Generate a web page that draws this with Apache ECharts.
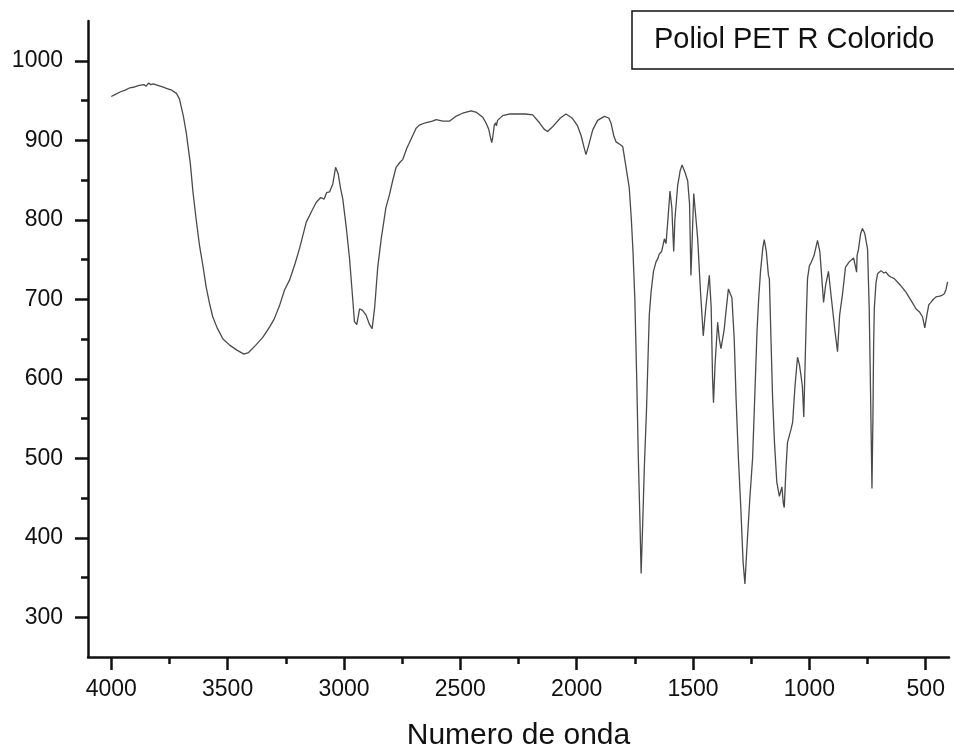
<!DOCTYPE html>
<html>
<head>
<meta charset="utf-8">
<title>Poliol PET R Colorido</title>
<script src="https://cdn.jsdelivr.net/npm/echarts@6/dist/echarts.min.js"></script>
<style>
  html, body { margin: 0; padding: 0; background: #fff; }
  #chart { width: 954px; height: 752px; }
</style>
</head>
<body>
<div id="chart"></div>
<script>
// FTIR spectrum: wavenumber (cm-1) against transmittance signal
const seriesName = 'Poliol PET R Colorido';
const axisName = 'Numero de onda';

const wavenumber = [
  4000, 3980, 3960, 3940, 3920, 3900, 3880, 3860, 3850, 3840, 3830, 3820, 3800, 3780, 3760, 3740,
  3720, 3707, 3690, 3678, 3660, 3649, 3635, 3621, 3605, 3592, 3578, 3564, 3545, 3520, 3490, 3460,
  3430, 3410, 3380, 3349, 3320, 3300, 3277, 3255, 3234, 3210, 3190, 3162, 3140, 3119, 3100, 3085,
  3075, 3062, 3048, 3036, 3025, 3015, 3005, 2990, 2976, 2965, 2955, 2945, 2933, 2920, 2905, 2890,
  2879, 2868, 2855, 2840, 2820, 2805, 2790, 2776, 2760, 2747, 2730, 2711, 2690, 2676, 2650, 2620,
  2604, 2575, 2547, 2520, 2490, 2454, 2430, 2404, 2390, 2378, 2370, 2365, 2360, 2354, 2348, 2345,
  2340, 2318, 2290, 2250, 2220, 2189, 2160, 2140, 2125, 2100, 2070, 2046, 2020, 1996, 1980, 1970,
  1960, 1950, 1931, 1910, 1881, 1862, 1852, 1840, 1831, 1815, 1802, 1790, 1774, 1765, 1758, 1750,
  1742, 1735, 1728, 1723, 1716, 1709, 1700, 1694, 1688, 1680, 1670, 1659, 1650, 1645, 1635, 1623,
  1616, 1608, 1599, 1591, 1586, 1583, 1578, 1566, 1555, 1547, 1535, 1523, 1515, 1509, 1503, 1497,
  1490, 1480, 1468, 1456, 1445, 1430, 1422, 1416, 1412, 1405, 1394, 1387, 1380, 1366, 1360, 1348,
  1333, 1323, 1315, 1305, 1295, 1285, 1277, 1268, 1256, 1244, 1232, 1225, 1218, 1210, 1200, 1194,
  1185, 1176, 1172, 1165, 1158, 1150, 1140, 1129, 1118, 1112, 1108, 1100, 1094, 1080, 1072, 1062,
  1051, 1043, 1036, 1030, 1024, 1020, 1013, 1008, 1000, 993, 980, 965, 955, 945, 939, 930,
  918, 905, 890, 879, 870, 857, 845, 829, 810, 803, 797, 795, 789, 780, 772, 762,
  750, 743, 738, 734, 731, 727, 724, 721, 714, 707, 692, 680, 671, 660, 650, 635,
  610, 585, 560, 542, 527, 514, 504, 495, 487, 478, 467, 456, 440, 430, 420, 413,
  406
];

const transmittance = [
  955, 958, 961, 963, 966, 967, 969, 970, 968, 972, 970, 971, 969, 967, 965, 963,
  959, 952, 930, 910, 870, 835, 800, 768, 740, 715, 695, 678, 664, 650, 642, 636,
  631, 633, 642, 652, 665, 675, 692, 712, 724, 745, 765, 797, 810, 822, 828, 826,
  834, 835, 845, 866, 858, 840, 826, 790, 751, 710, 672, 668, 688, 686, 680, 668,
  663, 690, 740, 776, 815, 831, 850, 866, 872, 876, 890, 902, 915, 919, 922, 924,
  926, 924, 924, 930, 934, 937, 935, 929, 922, 914, 903, 897, 905, 919, 922, 918,
  925, 931, 933, 933, 933, 932, 922, 914, 911, 918, 928, 933, 928, 918, 905, 893,
  882, 892, 913, 925, 930, 928, 921, 905, 898, 895, 892, 870, 840, 800, 760, 700,
  600, 500, 420, 355, 420, 491, 560, 620, 680, 710, 735, 747, 752, 757, 760, 776,
  770, 800, 836, 815, 780, 760, 800, 843, 862, 869, 860, 849, 820, 730, 780, 833,
  810, 776, 710, 654, 690, 730, 690, 600, 570, 620, 671, 650, 638, 662, 680, 713,
  702, 650, 575, 500, 440, 370, 342, 390, 449, 500, 600, 660, 700, 735, 765, 775,
  760, 730, 726, 650, 575, 520, 470, 452, 464, 443, 438, 490, 520, 535, 545, 590,
  627, 618, 604, 590, 552, 600, 680, 726, 742, 746, 755, 774, 760, 720, 696, 718,
  735, 700, 660, 634, 680, 708, 740, 747, 752, 751, 734, 755, 763, 782, 789, 783,
  763, 690, 600, 520, 462, 550, 640, 688, 720, 732, 736, 733, 734, 730, 728, 726,
  718, 709, 697, 688, 684, 678, 664, 680, 693, 696, 700, 703, 704, 705, 707, 712,
  722
];

// Axis ticks
const xMajorTicks = [500, 1000, 1500, 2000, 2500, 3000, 3500, 4000];
const xMinorTicks = [750, 1250, 1750, 2250, 2750, 3250, 3750];
const yMajorTicks = [300, 400, 500, 600, 700, 800, 900, 1000];
const yMinorTicks = [350, 450, 550, 650, 750, 850, 950];

const xRange = [400, 4100];
const yRange = [250, 1050];

const points = wavenumber.map((w, i) => [w, transmittance[i]]);

const font = 'Liberation Sans, Arial, Helvetica, sans-serif';
const ink = '#111';
const plain = v => String(v);

const chart = echarts.init(document.getElementById('chart'), null, { renderer: 'canvas' });

const baseX = {
  type: 'value', inverse: true, min: xRange[0], max: xRange[1],
  splitLine: { show: false }, gridIndex: 0
};
const baseY = {
  type: 'value', min: yRange[0], max: yRange[1],
  splitLine: { show: false }, gridIndex: 0
};

chart.setOption({
  animation: false,
  backgroundColor: '#fff',
  title: {
    text: seriesName,
    left: 632,
    top: 11,
    padding: [12, 40, 12, 22],
    borderColor: '#111',
    borderWidth: 1.5,
    textStyle: { fontFamily: font, fontSize: 29, fontWeight: 'normal', color: ink, lineHeight: 34 }
  },
  grid: { left: 88, right: 5, top: 21, bottom: 95, containLabel: false, outerBoundsMode: 'none' },
  xAxis: [
    Object.assign({}, baseX, {
      position: 'bottom',
      name: axisName,
      nameLocation: 'middle',
      nameGap: 64,
      nameTextStyle: { fontFamily: font, fontSize: 30, color: ink },
      axisLine: { show: true, onZero: false, lineStyle: { color: ink, width: 2.5 } },
      axisTick: { show: true, customValues: xMajorTicks, length: 13, lineStyle: { color: ink, width: 2.5 } },
      axisLabel: { show: true, customValues: xMajorTicks, formatter: plain, margin: 21, fontFamily: font, fontSize: 23, color: ink }
    }),
    Object.assign({}, baseX, {
      position: 'bottom',
      axisLine: { show: false, onZero: false },
      axisTick: { show: true, customValues: xMinorTicks, length: 7, lineStyle: { color: ink, width: 2.5 } },
      axisLabel: { show: false }
    })
  ],
  yAxis: [
    Object.assign({}, baseY, {
      position: 'left',
      axisLine: { show: true, onZero: false, lineStyle: { color: ink, width: 2.5 } },
      axisTick: { show: true, customValues: yMajorTicks, length: 13, lineStyle: { color: ink, width: 2.5 } },
      axisLabel: { show: true, customValues: yMajorTicks, formatter: plain, margin: 25, fontFamily: font, fontSize: 23, color: ink }
    }),
    Object.assign({}, baseY, {
      position: 'left',
      axisLine: { show: false, onZero: false },
      axisTick: { show: true, customValues: yMinorTicks, length: 7, lineStyle: { color: ink, width: 2.5 } },
      axisLabel: { show: false }
    })
  ],
  series: [{
    name: seriesName,
    type: 'line',
    xAxisIndex: 0,
    yAxisIndex: 0,
    data: points,
    showSymbol: false,
    smooth: false,
    lineStyle: { color: '#4a4a4a', width: 1.3 }
  }]
});
</script>
</body>
</html>
